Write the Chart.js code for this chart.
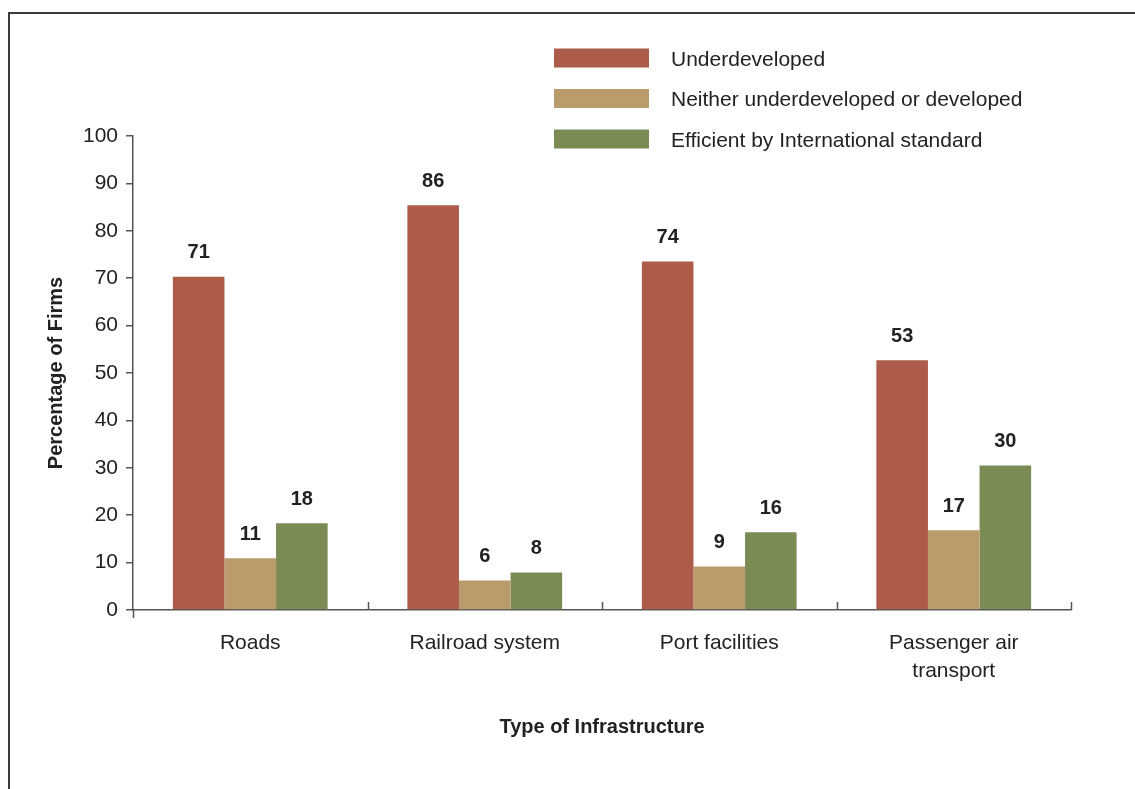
<!DOCTYPE html>
<html>
<head>
<meta charset="utf-8">
<script src="https://cdn.jsdelivr.net/npm/chart.js@4/dist/chart.umd.min.js"></script>
<style>
  html, body { margin: 0; padding: 0; background: #fff; overflow: hidden; }
  #frame { position: absolute; left: 8px; top: 12px; width: 1200px; height: 900px;
           border-top: 2px solid #3a3a3a; border-left: 2px solid #3a3a3a; }
  #c { position: absolute; left: 0; top: 0; }
</style>
</head>
<body>
<div id="frame"></div>
<canvas id="c" width="1135" height="789"></canvas>
<script>
const categories = ['Roads', 'Railroad system', 'Port facilities', ['Passenger air', 'transport']];
const seriesNames = ['Underdeveloped', 'Neither underdeveloped or developed', 'Efficient by International standard'];

// bar heights as drawn, and the rounded numbers printed above them
const underdeveloped = [70.3, 85.4, 73.5, 52.7];
const neither = [10.9, 6.2, 9.2, 16.8];
const efficient = [18.3, 7.9, 16.4, 30.5];
const underdevelopedLabels = [71, 86, 74, 53];
const neitherLabels = [11, 6, 9, 17];
const efficientLabels = [18, 8, 16, 30];

const yTicks = [0, 10, 20, 30, 40, 50, 60, 70, 80, 90, 100];

const colors = ['#ad5c4a', '#ba9b6c', '#7a8b53'];
const textColor = '#222';
const axisColor = '#555';

Chart.defaults.font.family = "'Liberation Sans', Arial, sans-serif";
Chart.defaults.color = textColor;

const valueLabels = {
  id: 'valueLabels',
  afterDatasetsDraw(chart) {
    const ctx = chart.ctx;
    ctx.save();
    ctx.font = "bold 20px 'Liberation Sans', Arial, sans-serif";
    ctx.fillStyle = textColor;
    ctx.textAlign = 'center';
    ctx.textBaseline = 'middle';
    chart.data.datasets.forEach((ds, i) => {
      chart.getDatasetMeta(i).data.forEach((bar, j) => {
        ctx.fillText(String(ds.valueLabels[j]), bar.x, bar.y - 24);
      });
    });
    ctx.restore();
  }
};

// short tick marks at the category boundaries, pointing into the plot
const innerTicks = {
  id: 'innerTicks',
  afterDraw(chart) {
    const x = chart.scales.x;
    const ctx = chart.ctx;
    const bottom = chart.chartArea.bottom;
    ctx.save();
    ctx.strokeStyle = axisColor;
    ctx.lineWidth = 1.5;
    ctx.beginPath();
    for (let i = 0; i <= categories.length; i++) {
      const px = Math.round(x.getPixelForValue(i - 0.5)) + 0.5;
      if (i === 0) {
        ctx.moveTo(px, bottom);
        ctx.lineTo(px, bottom + 8);
      } else {
        ctx.moveTo(px, bottom);
        ctx.lineTo(px, bottom - 8);
      }
    }
    ctx.stroke();
    ctx.restore();
  }
};

const sideLegend = {
  id: 'sideLegend',
  afterDraw(chart) {
    const ctx = chart.ctx;
    ctx.save();
    ctx.font = "21px 'Liberation Sans', Arial, sans-serif";
    ctx.textBaseline = 'middle';
    ctx.textAlign = 'left';
    chart.data.datasets.forEach((ds, i) => {
      const y = 58 + i * 40.5;
      ctx.fillStyle = ds.backgroundColor;
      ctx.fillRect(554, y - 9.5, 95, 19);
      ctx.fillStyle = textColor;
      ctx.fillText(ds.label, 671, y + 2);
    });
    ctx.restore();
  }
};

new Chart(document.getElementById('c'), {
  type: 'bar',
  data: {
    labels: categories,
    datasets: [
      { label: seriesNames[0], data: underdeveloped, valueLabels: underdevelopedLabels, backgroundColor: colors[0] },
      { label: seriesNames[1], data: neither, valueLabels: neitherLabels, backgroundColor: colors[1] },
      { label: seriesNames[2], data: efficient, valueLabels: efficientLabels, backgroundColor: colors[2] }
    ]
  },
  options: {
    responsive: false,
    animation: false,
    layout: { padding: { top: 136, right: 64, left: 0, bottom: 0 } },
    datasets: { bar: { categoryPercentage: 0.66, barPercentage: 1.0 } },
    plugins: {
      legend: { display: false },
      tooltip: { enabled: false }
    },
    scales: {
      x: {
        grid: { display: false },
        border: { display: true, color: axisColor, width: 1.5 },
        ticks: { padding: 12, font: { size: 21, lineHeight: 1.3 }, color: textColor },
        title: {
          display: true,
          text: 'Type of Infrastructure',
          font: { size: 20, weight: 'bold' },
          color: textColor,
          padding: { top: 0, bottom: 50 }
        },
        afterFit(scale) { scale.height = 179; }
      },
      y: {
        min: 0,
        max: 100,
        afterBuildTicks(scale) { scale.ticks = yTicks.map(v => ({ value: v })); },
        grid: { drawOnChartArea: false, drawTicks: true, tickLength: 7, color: axisColor, lineWidth: 1.5 },
        border: { display: true, color: axisColor, width: 1.5 },
        ticks: { padding: 8, font: { size: 21 }, color: textColor },
        title: {
          display: true,
          text: 'Percentage of Firms',
          font: { size: 20, weight: 'bold' },
          color: textColor,
          padding: { top: 44, bottom: 0 }
        },
        afterFit(scale) { scale.width = 133; }
      }
    }
  },
  plugins: [valueLabels, innerTicks, sideLegend]
});
</script>
</body>
</html>
